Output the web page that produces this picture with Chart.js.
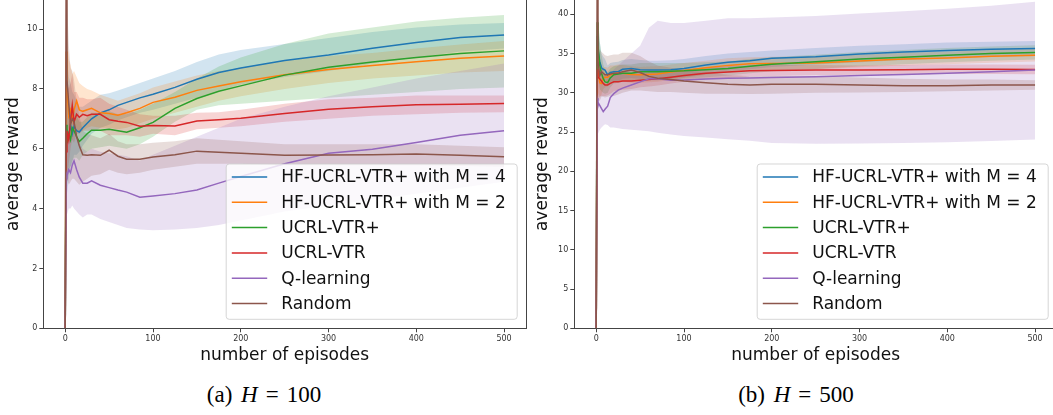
<!DOCTYPE html>
<html><head><meta charset="utf-8">
<script src="https://cdn.jsdelivr.net/npm/chart.js@4.4.0/dist/chart.umd.min.js"></script>
<style>
html,body{margin:0;padding:0;background:#fff;overflow:hidden;width:1053px;height:415px;}
#c1{position:absolute;left:0;top:0;}
#c2{position:absolute;left:530px;top:0;}
.cap{position:absolute;top:383px;width:300px;text-align:center;font-family:'Liberation Serif','Times New Roman',serif;font-size:23px;line-height:24px;color:#000;white-space:nowrap;}
.cap i{margin-left:3px;}
.cap .eq{display:inline-block;margin:0 8px;}
</style></head><body>
<canvas id="c1" width="530" height="372"></canvas>
<canvas id="c2" width="530" height="372"></canvas>
<div class="cap" style="left:114px">(a) <i>H</i><span class="eq">=</span>100</div>
<div class="cap" style="left:646px">(b) <i>H</i><span class="eq">=</span>500</div>
<script>
const episodes = [0,1,2,4,6,8,10,13,16,20,25,30,40,50,60,70,85,100,125,150,175,200,250,300,350,400,450,500];
const seriesLabels = ['HF-UCRL-VTR+ with M = 4','HF-UCRL-VTR+ with M = 2','UCRL-VTR+','UCRL-VTR','Q-learning','Random'];
const seriesColors = ['#1f77b4','#ff7f0e','#2ca02c','#d62728','#9467bd','#8c564b'];
const xTicks = [0,100,200,300,400,500];
const yTicksH100 = [0,2,4,6,8,10];
const yTicksH500 = [0,5,10,15,20,25,30,35,40];

// ---- H = 100 ----
const h100_M4    = [0,6.2,6.6,6.4,6.8,6.5,6.75,6.6,6.56,6.7,6.85,7.0,7.2,7.3,7.45,7.55,7.7,7.82,8.05,8.32,8.55,8.7,8.95,9.13,9.36,9.55,9.72,9.8];
const h100_M4_lo = [0,4.0,4.5,5.0,5.4,5.5,5.8,5.8,5.9,6.1,6.3,6.5,6.7,6.8,6.95,7.05,7.2,7.3,7.5,7.7,7.95,8.15,8.4,8.6,8.85,9.05,9.25,9.35];
const h100_M4_hi = [0,9.5,9.0,8.4,8.2,7.9,7.8,7.6,7.4,7.4,7.5,7.6,7.8,7.85,7.95,8.05,8.2,8.35,8.6,8.9,9.15,9.3,9.5,9.7,9.9,10.05,10.15,10.2];
const h100_M2    = [0,9.25,8.0,7.1,7.3,7.0,7.3,7.6,7.3,7.25,7.3,7.35,7.2,7.18,7.12,7.2,7.35,7.55,7.72,7.95,8.1,8.24,8.47,8.65,8.78,8.91,9.02,9.1];
const h100_M2_lo = [0,7.0,6.5,6.2,6.4,6.3,6.5,6.6,6.6,6.6,6.7,6.75,6.7,6.7,6.65,6.7,6.85,7.0,7.2,7.4,7.6,7.75,8.0,8.2,8.35,8.45,8.55,8.6];
const h100_M2_hi = [0,11.5,9.8,9.0,8.8,8.5,8.6,8.4,8.2,8.1,8.0,7.95,7.8,7.7,7.6,7.7,7.85,8.05,8.25,8.45,8.6,8.7,8.95,9.1,9.2,9.35,9.48,9.6];
const h100_VTRp    = [0,6.8,6.2,6.5,6.3,6.7,6.6,6.4,6.24,6.35,6.5,6.62,6.62,6.65,6.6,6.55,6.7,6.88,7.35,7.68,7.92,8.1,8.46,8.72,8.9,9.05,9.18,9.27];
const h100_VTRp_lo = [0,4.5,4.8,5.3,5.4,5.6,5.7,5.7,5.6,5.8,5.9,6.0,6.05,6.1,6.05,6.0,6.15,6.4,6.9,7.3,7.45,7.5,7.6,7.7,7.8,7.9,8.0,8.05];
const h100_VTRp_hi = [0,9.0,8.0,7.6,7.3,7.5,7.3,7.1,6.9,6.9,7.05,7.2,7.2,7.25,7.15,7.15,7.3,7.5,7.9,8.35,8.75,9.05,9.5,9.85,10.05,10.25,10.38,10.47];
const h100_VTR    = [0,5.9,6.6,6.3,6.9,7.45,6.9,7.15,7.05,7.15,7.1,7.15,7.15,6.97,6.92,6.88,6.75,6.78,6.76,6.93,6.97,7.02,7.18,7.32,7.4,7.47,7.49,7.51];
const h100_VTR_lo = [0,4.0,5.0,5.5,6.0,6.3,6.2,6.5,6.5,6.6,6.6,6.6,6.6,6.45,6.45,6.45,6.4,6.5,6.45,6.65,6.7,6.75,6.9,7.0,7.1,7.15,7.2,7.22];
const h100_VTR_hi = [0,8.0,8.2,8.0,8.2,8.5,7.9,7.9,7.7,7.7,7.65,7.65,7.7,7.5,7.4,7.3,7.15,7.1,7.1,7.2,7.22,7.3,7.5,7.65,7.7,7.78,7.78,7.78];
const h100_Q    = [0,5.2,5.1,5.3,5.2,5.45,5.6,5.3,5.05,4.85,4.85,4.93,4.78,4.7,4.62,4.55,4.38,4.42,4.5,4.62,4.85,5.07,5.5,5.85,5.98,6.21,6.45,6.6];
const h100_Q_lo = [0,3.5,3.8,4.0,4.0,4.1,4.0,3.9,3.8,3.7,3.8,3.8,3.65,3.55,3.45,3.35,3.3,3.28,3.3,3.35,3.45,3.6,3.9,4.1,4.3,4.5,4.7,4.9];
const h100_Q_hi = [0,7.0,6.5,6.4,6.3,6.5,6.6,6.4,6.2,6.0,5.9,6.0,5.9,5.85,5.8,5.75,5.6,5.8,6.1,6.4,6.7,7.0,7.4,7.75,8.05,8.35,8.6,8.85];
const h100_Rand    = [0,12,8.3,7.5,6.8,7.0,6.9,6.4,6.1,5.8,5.78,5.8,5.78,5.95,5.75,5.65,5.65,5.72,5.8,5.92,5.88,5.85,5.78,5.79,5.8,5.82,5.78,5.73];
const h100_Rand_lo = [0,6.0,5.0,4.8,4.9,5.0,5.0,4.9,4.8,4.9,5.0,5.1,5.15,5.3,5.2,5.15,5.2,5.3,5.4,5.5,5.5,5.5,5.45,5.45,5.45,5.45,5.42,5.4];
const h100_Rand_hi = [0,14,11,9.5,8.7,8.6,8.3,7.6,7.1,6.6,6.5,6.45,6.35,6.5,6.25,6.15,6.15,6.2,6.25,6.35,6.3,6.25,6.15,6.15,6.15,6.15,6.1,6.05];

// ---- H = 500 ----
const h500_M4    = [0,37.2,35.5,34.0,33.2,33.0,32.9,32.3,32.6,32.7,32.7,33.0,33.1,32.95,32.9,32.9,32.95,33.1,33.55,33.9,34.1,34.4,34.6,34.95,35.2,35.4,35.55,35.66];
const h500_M4_lo = [0,33,32,31.5,31.5,31.5,31.6,31.2,31.4,31.5,31.5,31.8,31.9,31.8,31.8,31.8,31.85,32.0,32.4,32.8,33.0,33.3,33.6,33.9,34.2,34.4,34.6,34.7];
const h500_M4_hi = [0,42,39.5,36.5,35,34.6,34.3,33.5,33.8,33.9,33.95,34.2,34.3,34.2,34.1,34.1,34.15,34.3,34.7,35.0,35.2,35.4,35.7,36.0,36.2,36.4,36.5,36.6];
const h500_M2    = [0,35.9,33.5,31.3,31.2,31.8,32.0,32.0,32.3,32.4,32.55,32.5,32.35,32.3,32.35,32.4,32.65,32.85,33.2,33.5,33.7,33.75,33.8,34.05,34.3,34.45,34.65,34.8];
const h500_M2_lo = [0,31,30,29.5,29.8,30.5,30.7,30.8,31.1,31.3,31.5,31.45,31.3,31.3,31.35,31.4,31.7,31.9,32.3,32.6,32.85,32.9,33.0,33.25,33.5,33.65,33.85,34.0];
const h500_M2_hi = [0,41,37.5,33.5,32.8,33.2,33.3,33.2,33.5,33.5,33.6,33.55,33.4,33.3,33.35,33.4,33.6,33.8,34.1,34.4,34.55,34.6,34.6,34.85,35.1,35.25,35.45,35.6];
const h500_VTRp    = [0,39.0,36.0,33.5,32.5,31.8,31.4,31.3,31.9,32.3,32.4,32.5,32.5,32.7,32.7,32.7,32.75,32.8,32.95,33.1,33.4,33.65,33.95,34.3,34.55,34.8,35.0,35.15];
const h500_VTRp_lo = [0,33,32,30.5,30.2,30.0,29.9,30.0,30.7,31.2,31.3,31.4,31.4,31.6,31.6,31.6,31.7,31.8,32.0,32.2,32.5,32.75,33.05,33.4,33.65,33.9,34.1,34.25];
const h500_VTRp_hi = [0,45,40,36.5,34.8,33.6,32.9,32.6,33.1,33.4,33.5,33.6,33.6,33.8,33.8,33.8,33.8,33.8,33.9,34.0,34.3,34.55,34.85,35.2,35.45,35.7,35.9,36.05];
const h500_VTR    = [0,33.0,32.0,31.8,31.5,31.2,31.0,31.0,31.2,31.4,31.4,31.5,31.5,31.6,31.7,31.8,32.0,32.2,32.5,32.65,32.8,32.85,32.9,32.9,32.95,33.0,33.0,32.98];
const h500_VTR_lo = [0,28,29,29.5,29.6,29.6,29.6,29.7,29.9,30.2,30.3,30.4,30.5,30.7,30.8,30.95,31.2,31.4,31.75,31.9,32.1,32.15,32.25,32.3,32.35,32.4,32.4,32.38];
const h500_VTR_hi = [0,38,35,34,33.4,32.8,32.4,32.3,32.5,32.6,32.5,32.6,32.5,32.5,32.6,32.65,32.8,33.0,33.25,33.4,33.5,33.55,33.55,33.5,33.55,33.6,33.6,33.58];
const h500_Q    = [0,29.3,28.8,28.4,28.0,27.6,27.9,28.3,29.4,29.9,30.35,30.6,31.0,31.4,31.8,31.8,31.6,31.65,31.75,31.85,31.9,31.95,32.05,32.2,32.35,32.5,32.7,32.9];
const h500_Q_lo = [0,24,24.8,25.3,25.6,25.8,26.0,25.9,25.6,25.6,25.5,25.4,25.3,25.2,25.1,24.9,24.7,24.5,24.3,24.1,23.9,23.6,23.5,23.55,23.6,23.7,23.85,24.05];
const h500_Q_hi = [0,35,33.5,32.5,31.5,31.0,31.3,31.8,32.4,33.0,33.5,34.0,35.0,36.0,38.3,39.2,38.9,38.9,39.2,39.5,39.5,39.6,39.8,40.1,40.4,40.7,41.1,41.6];
const h500_Rand    = [0,44,34,32.2,32.7,32.5,32.3,32.3,32.4,32.5,32.5,32.7,32.9,32.6,32.1,31.85,31.7,31.5,31.3,31.1,31.0,31.1,31.1,31.0,30.9,30.9,31.0,31.0];
const h500_Rand_lo = [0,30,29,29,29.5,29.5,29.4,29.5,29.6,29.6,29.8,30.0,30.3,30.3,30.2,30.1,30.1,30.0,29.9,29.9,29.85,29.9,30.0,30.05,30.1,30.2,30.3,30.4];
const h500_Rand_hi = [0,50,39,35.5,35.2,35,34.8,34.7,34.8,34.9,34.9,35.1,35.1,34.7,34.0,33.5,33.2,32.9,32.6,32.3,32.1,32.15,32.1,31.95,31.8,31.7,31.7,31.6];

const panelH100 = [
  [h100_M4, h100_M4_lo, h100_M4_hi],
  [h100_M2, h100_M2_lo, h100_M2_hi],
  [h100_VTRp, h100_VTRp_lo, h100_VTRp_hi],
  [h100_VTR, h100_VTR_lo, h100_VTR_hi],
  [h100_Q, h100_Q_lo, h100_Q_hi],
  [h100_Rand, h100_Rand_lo, h100_Rand_hi]
];
const panelH500 = [
  [h500_M4, h500_M4_lo, h500_M4_hi],
  [h500_M2, h500_M2_lo, h500_M2_hi],
  [h500_VTRp, h500_VTRp_lo, h500_VTRp_hi],
  [h500_VTR, h500_VTR_lo, h500_VTR_hi],
  [h500_Q, h500_Q_lo, h500_Q_hi],
  [h500_Rand, h500_Rand_lo, h500_Rand_hi]
];

function rgba(hex, a) {
  const n = parseInt(hex.slice(1), 16);
  return 'rgba(' + (n >> 16) + ',' + ((n >> 8) & 255) + ',' + (n & 255) + ',' + a + ')';
}
function pts(vals) { return episodes.map((e, i) => ({x: e, y: vals[i]})); }

function buildDatasets(panel) {
  const ds = [];
  // bands first (drawn underneath), then mean lines on top
  panel.forEach((s, k) => {
    const col = seriesColors[k];
    ds.push({label: seriesLabels[k] + ' lower', data: pts(s[1]), borderColor: 'rgba(0,0,0,0)', borderWidth: 0, fill: false, pointRadius: 0});
    ds.push({label: seriesLabels[k] + ' upper', data: pts(s[2]), borderColor: 'rgba(0,0,0,0)', borderWidth: 0, fill: '-1', backgroundColor: rgba(col, 0.2), pointRadius: 0});
  });
  panel.forEach((s, k) => {
    ds.push({label: seriesLabels[k], data: pts(s[0]), borderColor: seriesColors[k], borderWidth: 1.5, fill: false, pointRadius: 0, isMean: true});
  });
  ds.forEach((d, i) => { d.order = 1000 - i; });
  return ds;
}

const spinePlugin = {
  id: 'rightSpine',
  afterDatasetsDraw(chart) {
    const ca = chart.chartArea, ctx = chart.ctx;
    ctx.save();
    ctx.strokeStyle = '#444'; ctx.lineWidth = 1;
    ctx.beginPath(); ctx.moveTo(ca.right + 0.5, ca.top); ctx.lineTo(ca.right + 0.5, ca.bottom); ctx.stroke();
    ctx.restore();
  }
};

const legendPlugin = {
  id: 'boxLegend',
  afterDraw(chart) {
    const ctx = chart.ctx, ca = chart.chartArea;
    const W = 291, H = 155.3;
    const right = ca.right - 8.8, bottom = ca.bottom - 9;
    const left = right - W, top = bottom - H, r = 3;
    ctx.save();
    ctx.beginPath();
    ctx.moveTo(left + r, top); ctx.lineTo(right - r, top); ctx.arcTo(right, top, right, top + r, r);
    ctx.lineTo(right, bottom - r); ctx.arcTo(right, bottom, right - r, bottom, r);
    ctx.lineTo(left + r, bottom); ctx.arcTo(left, bottom, left, bottom - r, r);
    ctx.lineTo(left, top + r); ctx.arcTo(left, top, left + r, top, r);
    ctx.closePath();
    ctx.fillStyle = 'rgba(255,255,255,0.8)'; ctx.fill();
    ctx.strokeStyle = 'rgba(204,204,204,0.8)'; ctx.lineWidth = 1; ctx.stroke();
    const means = chart.data.datasets.filter(d => d.isMean);
    ctx.font = '17px "DejaVu Sans"';
    ctx.textBaseline = 'middle';
    means.forEach((d, i) => {
      const y = top + 13 + i * 25.3;
      ctx.strokeStyle = d.borderColor; ctx.lineWidth = 1.5;
      ctx.beginPath(); ctx.moveTo(left + 5.6, y); ctx.lineTo(left + 41, y); ctx.stroke();
      ctx.fillStyle = '#111';
      ctx.fillText(d.label, left + 55, y + 1);
    });
    ctx.restore();
  }
};

function makeChart(id, panel, yMax, yTicks, yWidth, padRight, yTitlePad) {
  return new Chart(document.getElementById(id), {
    type: 'line',
    data: {datasets: buildDatasets(panel)},
    options: {
      responsive: false, animation: false, devicePixelRatio: 1,
      layout: {padding: {left: 0, top: 0, right: padRight, bottom: 0}},
      plugins: {legend: {display: false}, tooltip: {enabled: false}},
      elements: {point: {radius: 0}, line: {tension: 0}},
      scales: {
        x: {
          type: 'linear', min: -25, max: 525,
          afterBuildTicks: s => { s.ticks = xTicks.map(v => ({value: v})); },
          afterFit: s => { s.height = 43.7; s.paddingLeft = 0; s.paddingRight = 0; },
          grid: {drawOnChartArea: false, drawTicks: true, tickLength: 4, color: '#444'},
          border: {display: true, color: '#444', width: 1},
          ticks: {font: {family: 'DejaVu Sans', size: 8}, color: '#333', padding: 2, maxRotation: 0, autoSkip: false},
          title: {display: true, text: 'number of episodes', color: '#111',
                  font: {family: 'DejaVu Sans', size: 17, lineHeight: 1}, padding: {top: 0, bottom: 7.5}}
        },
        y: {
          type: 'linear', min: 0, max: yMax,
          afterBuildTicks: s => { s.ticks = yTicks.map(v => ({value: v})); },
          afterFit: s => { s.width = yWidth; s.paddingTop = 0; s.paddingBottom = 0; },
          grid: {drawOnChartArea: false, drawTicks: true, tickLength: 4, color: '#444'},
          border: {display: true, color: '#444', width: 1},
          ticks: {font: {family: 'DejaVu Sans', size: 8}, color: '#333', padding: 2, autoSkip: false},
          title: {display: true, text: 'average reward', color: '#111',
                  font: {family: 'DejaVu Sans', size: 17, lineHeight: 1}, padding: {top: yTitlePad, bottom: 0}}
        }
      }
    },
    plugins: [spinePlugin, legendPlugin]
  });
}

makeChart('c1', panelH100, 10.97, yTicksH100, 43.3, 4, 5);
makeChart('c2', panelH500, 41.83, yTicksH500, 44.3, 3, 4.5);
</script>
</body></html>
